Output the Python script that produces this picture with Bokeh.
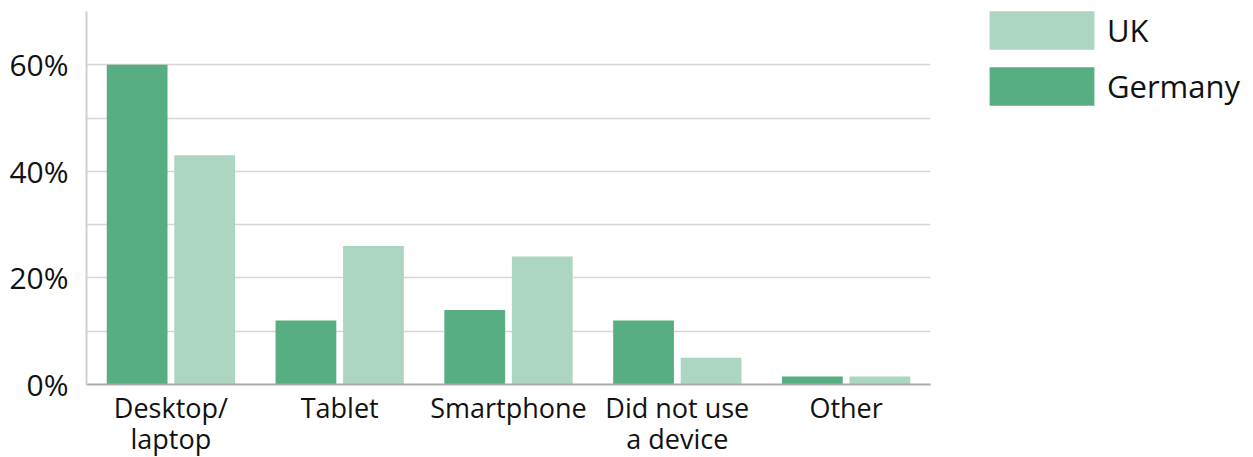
from bokeh.plotting import figure
from bokeh.models import (ColumnDataSource, FactorRange, Range1d, FixedTicker,
                          PrintfTickFormatter, Legend, LegendItem)
from bokeh.transform import dodge
from bokeh.embed import file_html
from bokeh.resources import INLINE

# Device used, share of respondents (%)
categories = ["Desktop/\nlaptop", "Tablet", "Smartphone", "Did not use\na device", "Other"]
germany = [60, 12, 14, 12, 1.5]
uk = [43, 26, 24, 5, 1.5]
y_ticks = [0, 20, 40, 60]
y_minor = [10, 30, 50, 70]

GERMANY_COLOR = "#57ae82"
UK_COLOR = "#acd6c2"
FONT = "Open Sans"

source = ColumnDataSource(data=dict(cat=categories, germany=germany, uk=uk))

p = figure(frame_width=844, frame_height=373, output_backend="svg",
           toolbar_location=None,
           x_range=FactorRange(*categories, range_padding=0),
           y_range=Range1d(0, 70),
           min_border_left=86, min_border_right=323, min_border_top=11,
           min_border_bottom=73)
p.outline_line_color = None
p.background_fill_color = "white"

de = p.vbar(x=dodge("cat", -0.2, range=p.x_range), top="germany", width=0.36,
            source=source, color=GERMANY_COLOR, line_color=None)
gb = p.vbar(x=dodge("cat", 0.2, range=p.x_range), top="uk", width=0.36,
            source=source, color=UK_COLOR, line_color=None)

# y axis: labels every 20%, gridlines every 10%
p.yaxis.ticker = FixedTicker(ticks=y_ticks, minor_ticks=y_minor)
p.yaxis.formatter = PrintfTickFormatter(format="%d%%")
p.yaxis.major_tick_line_color = None
p.yaxis.minor_tick_line_color = None
p.yaxis.axis_line_color = "#cfcfcf"
p.yaxis.axis_line_width = 2
p.yaxis.major_label_text_font = FONT
p.yaxis.major_label_text_font_size = "30px"
p.yaxis.major_label_text_color = "#111111"
p.yaxis.major_label_standoff = 12

p.ygrid.grid_line_color = "#d6d6d6"
p.ygrid.grid_line_width = 1.5
p.ygrid.minor_grid_line_color = "#d6d6d6"
p.ygrid.minor_grid_line_width = 1.5
p.xgrid.grid_line_color = None

p.xaxis.major_tick_line_color = None
p.xaxis.minor_tick_line_color = None
p.xaxis.axis_line_color = "#aaaaaa"
p.xaxis.axis_line_width = 2
p.xaxis.major_label_text_font = FONT
p.xaxis.major_label_text_font_size = "27px"
p.xaxis.major_label_text_color = "#111111"
p.xaxis.major_label_standoff = -2
p.xaxis.major_label_text_line_height = 0.84

legend = Legend(items=[LegendItem(label="UK", renderers=[gb]),
                       LegendItem(label="Germany", renderers=[de])],
                location=(46, 274), glyph_width=131, glyph_height=48,
                spacing=8, padding=0, margin=0, label_standoff=0,
                label_text_font=FONT, label_text_font_size="31px",
                label_text_color="#111111",
                border_line_color=None, background_fill_alpha=0)
p.add_layout(legend, "right")

open("out.html", "w").write(file_html(p, INLINE))
